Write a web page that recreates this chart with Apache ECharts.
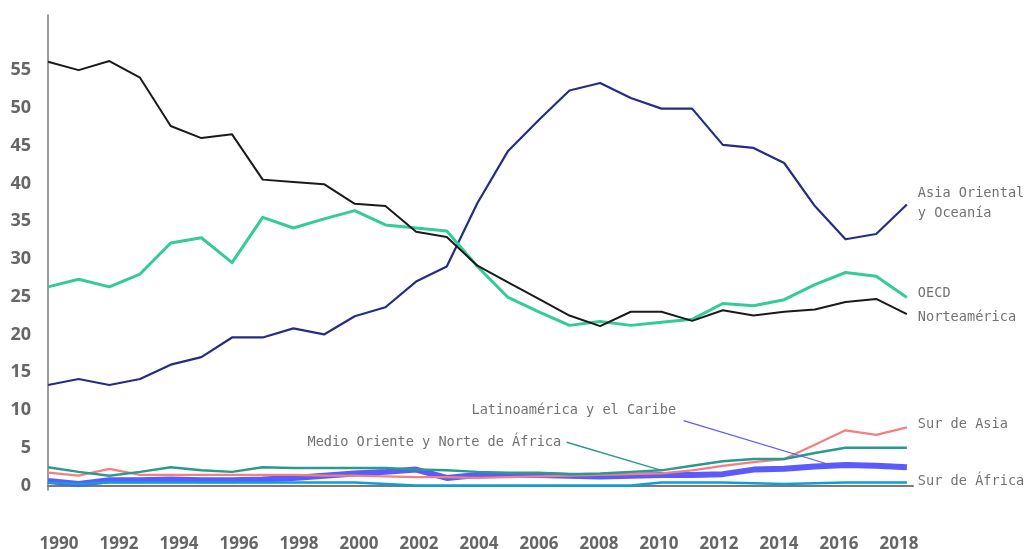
<!DOCTYPE html>
<html>
<head>
<meta charset="utf-8">
<script src="https://cdn.jsdelivr.net/npm/echarts@6/dist/echarts.min.js"></script>
<style>
  html, body { margin: 0; padding: 0; background: #fff; }
  #chart { width: 1028px; height: 549px; }
</style>
</head>
<body>
<div id="chart"></div>
<script>
// ---- data ----
const years = [1990,1991,1992,1993,1994,1995,1996,1997,1998,1999,2000,2001,2002,2003,2004,2005,2006,2007,2008,2009,2010,2011,2012,2013,2014,2015,2016,2017,2018];
const xTickLabels = [1990,1992,1994,1996,1998,2000,2002,2004,2006,2008,2010,2012,2014,2016,2018];
const yTickLabels = [0,5,10,15,20,25,30,35,40,45,50,55];

const seriesNames = {
  asia: 'Asia Oriental\ny Oceanía',
  oecd: 'OECD',
  norte: 'Norteamérica',
  surAsia: 'Sur de Asia',
  medio: 'Medio Oriente y Norte de África',
  latin: 'Latinoamérica y el Caribe',
  surAfrica: 'Sur de África'
};

const asia = [13.3,14.1,13.3,14.1,16.0,17.0,19.6,19.6,20.8,20.0,22.4,23.6,27.0,29.0,37.4,44.3,48.4,52.3,53.3,51.3,49.9,49.9,45.1,44.7,42.7,37.0,32.6,33.3,37.2];
const oecd = [26.3,27.3,26.3,28.0,32.1,32.8,29.5,35.5,34.1,35.3,36.4,34.5,34.1,33.7,29.0,24.9,23.0,21.2,21.7,21.2,21.6,22.0,24.1,23.8,24.6,26.6,28.2,27.7,24.9];
const norte = [56.1,55.0,56.2,54.0,47.6,46.0,46.5,40.5,40.2,39.9,37.3,37.0,33.6,32.9,29.1,26.9,24.7,22.5,21.1,23.0,23.0,21.8,23.2,22.5,23.0,23.3,24.3,24.7,22.7];
const surAsia = [1.7,1.3,2.2,1.4,1.4,1.4,1.4,1.4,1.4,1.3,1.3,1.2,1.1,1.1,1.0,1.1,1.2,1.3,1.4,1.5,1.6,2.0,2.6,3.1,3.5,5.4,7.3,6.7,7.7];
const medio = [2.4,1.8,1.3,1.8,2.4,2.0,1.8,2.4,2.3,2.3,2.3,2.3,2.1,2.0,1.8,1.7,1.7,1.5,1.6,1.8,2.0,2.6,3.2,3.5,3.5,4.3,5.0,5.0,5.0];
const latin = [0.6,0.2,0.7,0.7,0.8,0.7,0.7,0.8,1.0,1.3,1.6,1.8,2.1,1.0,1.4,1.4,1.4,1.3,1.2,1.3,1.4,1.4,1.5,2.1,2.2,2.5,2.7,2.6,2.4];
const surAfrica = [0.4,0.2,0.4,0.4,0.4,0.4,0.4,0.4,0.4,0.4,0.4,0.2,0.0,0.0,0.0,0.0,0.0,0.0,0.0,0.0,0.4,0.4,0.4,0.3,0.2,0.3,0.4,0.4,0.4];

// ---- chart ----
const pairs = arr => years.map((y, i) => [y, arr[i]]);
const MONO = '"DejaVu Sans Mono", "Liberation Mono", monospace';
const AXISFONT = '"Open Sans", "Noto Sans", sans-serif';
const labelGray = '#737373';

function line(name, arr, color, width, endLabel, extra) {
  const s = {
    name: name,
    type: 'line',
    data: pairs(arr),
    xAxisIndex: 0,
    symbol: 'none',
    lineStyle: { color: color, width: width, join: 'round' },
    itemStyle: { color: color },
    emphasis: { disabled: true },
    z: 2
  };
  if (endLabel) {
    s.endLabel = Object.assign({
      show: true,
      formatter: name,
      color: labelGray,
      fontFamily: MONO,
      fontSize: 13.6,
      lineHeight: 20,
      distance: 11
    }, endLabel);
  }
  return Object.assign(s, extra || {});
}

function annot(text, startCoord, endCoord, color, width, labelOffset) {
  return {
    markLine: {
      silent: true,
      symbol: 'none',
      label: { show: false },
      lineStyle: { color: color, width: width, type: 'solid' },
      emphasis: { disabled: true },
      data: [[{ coord: startCoord }, { coord: endCoord }]]
    },
    markPoint: {
      silent: true,
      data: [{
        coord: startCoord,
        symbol: 'circle',
        symbolSize: 1,
        itemStyle: { color: 'rgba(0,0,0,0)' },
        label: {
          show: true,
          position: 'left',
          distance: 4,
          offset: labelOffset,
          formatter: text,
          color: labelGray,
          fontFamily: MONO,
          fontSize: 13.6
        }
      }]
    }
  };
}

const chart = echarts.init(document.getElementById('chart'), null, { renderer: 'canvas' });

const option = {
  animation: false,
  backgroundColor: '#fff',
  grid: { left: 48, right: 115, top: 15, bottom: 59, containLabel: false, outerBoundsMode: 'none' },
  xAxis: [
    {
      type: 'value', min: 1990, max: 2018.2, position: 'bottom',
      axisLine: { show: true, lineStyle: { color: '#7a7a7a', width: 2 } },
      axisTick: { show: false }, axisLabel: { show: false }, splitLine: { show: false }
    },
    {
      type: 'value', min: 1989.633, max: 2018.467, position: 'bottom',
      axisLine: { show: false }, axisTick: { show: false }, splitLine: { show: false },
      axisLabel: {
        show: true, customValues: xTickLabels, margin: 46,
        formatter: v => String(v),
        color: '#666', fontWeight: 'bold', fontSize: 17, fontFamily: AXISFONT
      }
    }
  ],
  yAxis: {
    type: 'value', min: -0.6, max: 62.3,
    axisLine: { show: true, lineStyle: { color: '#7a7a7a', width: 1.5 } },
    axisTick: { show: false }, splitLine: { show: false },
    axisLabel: {
      customValues: yTickLabels, margin: 17,
      color: '#666', fontWeight: 'bold', fontSize: 18, fontFamily: AXISFONT
    }
  },
  series: [
    line(seriesNames.latin, latin, '#5a5aff', 6, null,
      annot(seriesNames.latin, [2010.72, 8.58], [2015.36, 2.91], '#5a5aff', 1.2, [-3, -10])),
    line(seriesNames.surAfrica, surAfrica, '#0e9fd6', 2.5, { offset: [0, -1] }),
    line(seriesNames.surAsia, surAsia, '#f47f7f', 2.2, { offset: [0, -3] }),
    line(seriesNames.medio, medio, '#2a9a8e', 2.5, null,
      annot(seriesNames.medio, [2006.91, 5.72], [years[20], medio[20]], '#2a9a8e', 1.5, [-1, 0])),
    line(seriesNames.asia, asia, '#262c86', 2.2, { offset: [0, -1] }),
    line(seriesNames.oecd, oecd, '#33cc96', 3, { offset: [0, -4] }),
    line(seriesNames.norte, norte, '#1a1a1a', 2, { offset: [0, 3] })
  ]
};

chart.setOption(option);
</script>
</body>
</html>
